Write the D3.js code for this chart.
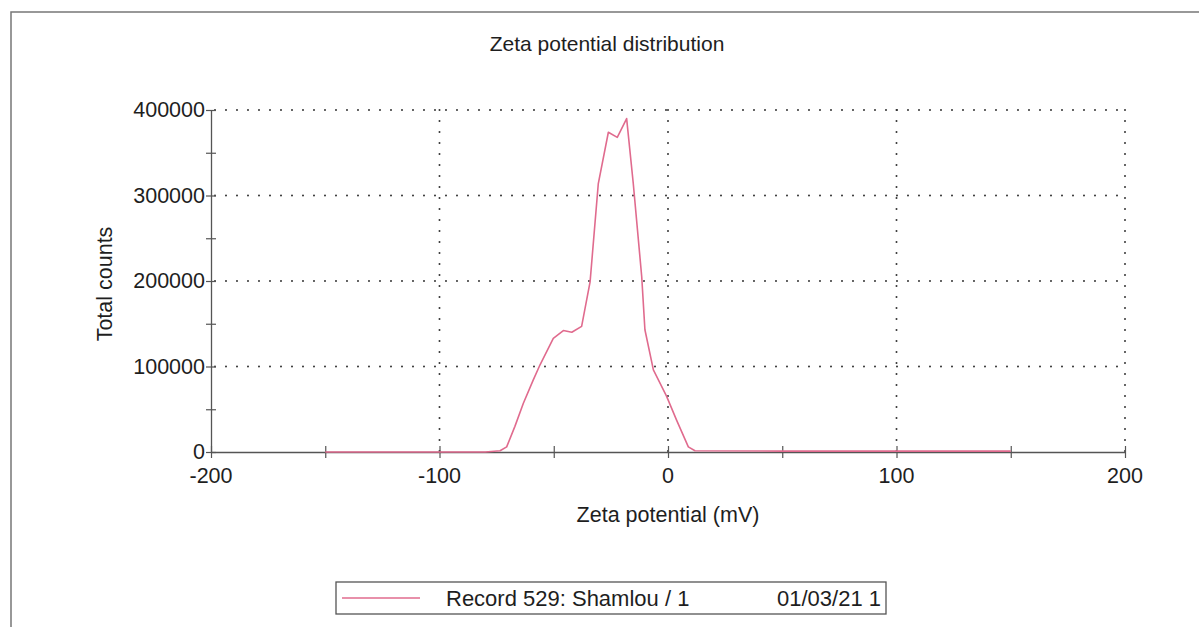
<!DOCTYPE html>
<html>
<head>
<meta charset="utf-8">
<script src="https://cdn.jsdelivr.net/npm/d3@7"></script>
<style>
  body { margin: 0; background: #fff; }
  svg text { font-family: "Liberation Sans", Arial, sans-serif; fill: #1e1e1e; }
</style>
</head>
<body>
<div id="chart"></div>
<script>
// Zeta potential (mV) and total counts
const zeta = [-150, -100, -80, -73.5, -70.6, -67, -63.3, -59, -56, -50.2, -45.8, -42.1, -37.8,
  -34.1, -30.5, -26.1, -22.2, -18.1, -15.2, -11.5, -10.1, -6.4, -0.6, 3.8, 8.9, 11.8, 50, 100, 150];
const counts = [0, 0, 0, 1500, 6000, 30000, 57000, 84000, 102000, 133000, 142000, 140000, 147000,
  199000, 314000, 374000, 368000, 390000, 314000, 205000, 143000, 96000, 65000, 37000, 6000, 1500, 1000, 1000, 1000];

const xMajor = [-200, -100, 0, 100, 200];
const xMinor = [-150, -50, 50, 150];
const yMajor = [0, 100000, 200000, 300000, 400000];
const yMinor = [50000, 150000, 250000, 350000];

const legendLabel = 'Record 529: Shamlou / 1';
const legendDate = '01/03/21 1';

const width = 1199, height = 627;
const plot = { left: 211, right: 1125, top: 110, bottom: 452 };

const svg = d3.select('#chart')
  .append('svg')
  .attr('width', width)
  .attr('height', height);

// page frame (top and left edges only)
svg.append('path')
  .attr('d', `M11,${height} L11,12 L${width},12`)
  .attr('fill', 'none')
  .attr('stroke', '#777')
  .attr('stroke-width', 1.5);

const x = d3.scaleLinear().domain([-200, 200]).range([plot.left, plot.right]);
const y = d3.scaleLinear().domain([0, 400000]).range([plot.bottom, plot.top]);

// dotted grid
const grid = svg.append('g').attr('class', 'grid')
  .attr('stroke', '#333')
  .attr('stroke-width', 2)
  .attr('stroke-linecap', 'round')
  .attr('stroke-dasharray', '0 11');

grid.selectAll('.vgrid')
  .data(xMajor.filter(v => v > -200))
  .enter()
  .append('line')
  .attr('class', 'vgrid')
  .attr('x1', d => x(d)).attr('x2', d => x(d))
  .attr('y1', y(400000)).attr('y2', y(0));

grid.selectAll('.hgrid')
  .data(yMajor.filter(v => v > 0))
  .enter()
  .append('line')
  .attr('class', 'hgrid')
  .attr('x1', x(-200) + 4).attr('x2', x(200))
  .attr('y1', d => y(d)).attr('y2', d => y(d));

// axes
const xAxis = svg.append('g')
  .attr('transform', `translate(0,${plot.bottom})`)
  .call(d3.axisBottom(x).tickValues(xMajor.concat(xMinor)).tickSize(0).tickFormat(''));
xAxis.select('.domain').attr('stroke', '#555').attr('stroke-width', 1.3);
xAxis.selectAll('.tick line')
  .attr('y1', -6).attr('y2', 6)
  .attr('stroke', '#555').attr('stroke-width', 1.2);

const yAxis = svg.append('g')
  .attr('transform', `translate(${plot.left},0)`)
  .call(d3.axisLeft(y).tickValues(yMajor.concat(yMinor)).tickSize(0).tickFormat(''));
yAxis.select('.domain').attr('stroke', '#555').attr('stroke-width', 1.3);
yAxis.selectAll('.tick line')
  .attr('x1', -5).attr('x2', 5)
  .attr('stroke', '#555').attr('stroke-width', 1.2);

// tick labels
svg.selectAll('.xlabel')
  .data(xMajor)
  .enter()
  .append('text')
  .attr('class', 'xlabel')
  .attr('x', d => x(d))
  .attr('y', plot.bottom + 31)
  .attr('text-anchor', 'middle')
  .style('font-size', '21.5px')
  .text(d => d);

svg.selectAll('.ylabel')
  .data(yMajor)
  .enter()
  .append('text')
  .attr('class', 'ylabel')
  .attr('x', plot.left - 6)
  .attr('y', d => y(d))
  .attr('dy', '0.34em')
  .attr('text-anchor', 'end')
  .style('font-size', '21.5px')
  .text(d => d);

// titles
svg.append('text')
  .attr('x', 607).attr('y', 51)
  .attr('text-anchor', 'middle')
  .style('font-size', '21px')
  .text('Zeta potential distribution');

svg.append('text')
  .attr('x', x(0)).attr('y', 522)
  .attr('text-anchor', 'middle')
  .style('font-size', '21.5px')
  .text('Zeta potential (mV)');

svg.append('text')
  .attr('transform', 'translate(112,284) rotate(-90)')
  .attr('text-anchor', 'middle')
  .style('font-size', '21.5px')
  .text('Total counts');

// distribution curve
const line = d3.line()
  .x((d, i) => x(zeta[i]))
  .y(d => y(d));

svg.append('path')
  .datum(counts)
  .attr('d', line)
  .attr('fill', 'none')
  .attr('stroke', '#e06b8e')
  .attr('stroke-width', 1.6)
  .attr('stroke-linejoin', 'round');

// legend
const legend = svg.append('g').attr('transform', 'translate(336,582)');
legend.append('rect')
  .attr('width', 550).attr('height', 32)
  .attr('fill', '#fff')
  .attr('stroke', '#555')
  .attr('stroke-width', 1.3);
legend.append('line')
  .attr('x1', 6).attr('x2', 84)
  .attr('y1', 16).attr('y2', 16)
  .attr('stroke', '#e06b8e')
  .attr('stroke-width', 1.4);
legend.append('text')
  .attr('x', 110).attr('y', 24)
  .style('font-size', '22px')
  .text(legendLabel);
legend.append('text')
  .attr('x', 545).attr('y', 24)
  .attr('text-anchor', 'end')
  .style('font-size', '22px')
  .text(legendDate);
</script>
</body>
</html>
